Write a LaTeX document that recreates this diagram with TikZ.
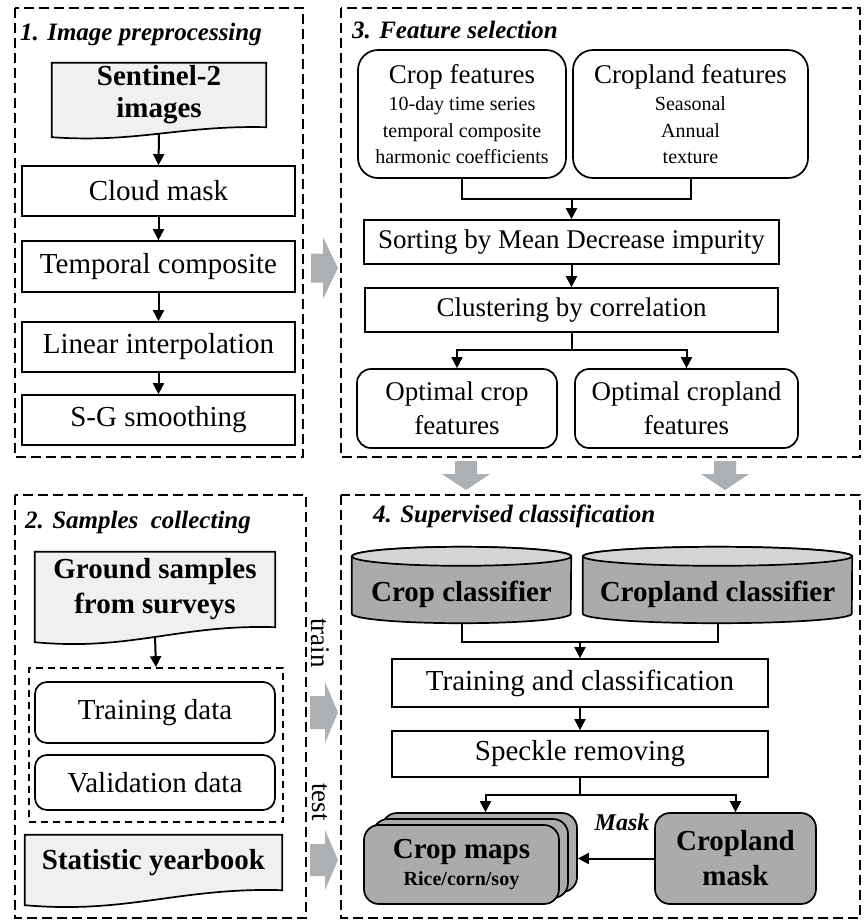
\documentclass[tikz,border=0pt]{standalone}
\usepackage{fontspec}
\setmainfont{Liberation Serif}
\usetikzlibrary{arrows.meta,backgrounds,calc}
\definecolor{docfill}{HTML}{F0F0F0}
\definecolor{dgray}{HTML}{A9ABAD}
\definecolor{lgray}{HTML}{D4D5D6}
\definecolor{agray}{HTML}{ADB0B3}
\newcommand\mydoc[2]{%
  \filldraw[fill=docfill, line width=1.7pt] (#1.south east) -- (#1.north east) -- (#1.north west) -- ([yshift=-#2pt]#1.south west)
   .. controls ($(#1.south west)!0.4!(#1.south east)+(0pt,-1.6*#2pt)$) and ($(#1.south west)!0.6!(#1.south east)+(0pt,0.2*#2pt)$) .. (#1.south east) -- cycle;}
\newcommand\mycyl[2]{%
  \filldraw[fill=dgray, line width=1.7pt] ([yshift=9.5pt]#1.north west) -- ([yshift=9.5pt]#1.south west)
   arc[start angle=180, end angle=360, x radius=#2pt, y radius=9.5pt] -- ([yshift=9.5pt]#1.north east)
   arc[start angle=0, end angle=180, x radius=#2pt, y radius=9.5pt] -- cycle;
  \filldraw[fill=lgray, line width=1.7pt] ([yshift=9.5pt]#1.north) ellipse[x radius=#2pt, y radius=9.5pt];}
\begin{document}
\begin{tikzpicture}[x=1pt,y=-1pt,
  panel/.style={draw, line width=2.2pt, dash pattern=on 10pt off 5pt},
  box/.style={draw, line width=1.7pt, fill=white, inner sep=0pt, align=center, font=\fontsize{29}{34}\selectfont},
  sbox/.style={box, font=\fontsize{27}{34}\selectfont},
  rbox/.style={box, rounded corners=14pt},
  docnode/.style={inner sep=0pt, align=center, font=\fontsize{29}{35}\selectfont\bfseries},
  gnode/.style={draw, line width=1.7pt, fill=dgray, inner sep=0pt, align=center, rounded corners=15pt, font=\fontsize{29}{35}\selectfont\bfseries},
  cylnode/.style={inner sep=0pt, font=\fontsize{29}{34}\selectfont\bfseries},
  title/.style={anchor=base west, inner sep=0pt, font=\fontsize{25}{30}\selectfont\bfseries\itshape},
  lbl/.style={inner sep=0pt, font=\fontsize{27}{30}\selectfont},
  line/.style={line width=2pt},
  arr/.style={line width=2pt, -{Triangle[length=11pt,width=11pt]}},
  garr/.style={fill=agray, draw=none}]
\useasboundingbox (0,0) rectangle (867,922);

% ---------- panels
\draw[panel] (15,8) rectangle (303,457);
\draw[panel] (341,8) rectangle (860,457);
\draw[panel] (15,495) rectangle (306,918);
\draw[panel] (341,495) rectangle (860,918);

% ---------- panel 1
\node[title] (t1) at (20,40) {1. Image preprocessing};
\node[docnode, font=\fontsize{29}{32}\selectfont\bfseries, minimum width=214pt, minimum height=64pt] (sent) at (159,95) {Sentinel-2\\images};
\begin{pgfonlayer}{background}\mydoc{sent}{10}\end{pgfonlayer}
\node[box, minimum width=273pt, minimum height=50pt] (cloud) at (158.5,191) {Cloud mask};
\node[box, minimum width=273pt, minimum height=51pt] (temp) at (158.5,266.5) {Temporal composite};
\node[box, minimum width=273pt, minimum height=50pt] (lin) at (158.5,347) {Linear interpolation};
\node[box, minimum width=273pt, minimum height=50pt] (sg) at (158.5,420) {S-G smoothing};
\draw[arr] ([yshift=-6.5pt]sent.south) -- (cloud.north);
\draw[arr] (cloud.south) -- (temp.north);
\draw[arr] (temp.south) -- (lin.north);
\draw[arr] (lin.south) -- (sg.north);

% gray arrow 1 -> 3
\fill[garr] (311,253.5) -- (323,253.5) -- (323,237) -- (338,268) -- (323,299) -- (323,282.5) -- (311,282.5) -- cycle;

% ---------- panel 3
\node[title] (t3) at (352,38) {3. Feature selection};
\node[rbox, rounded corners=20pt, minimum width=208pt, minimum height=128pt, font=\fontsize{20}{26.5}\selectfont] (cropf) at (462,114)
  {{\fontsize{27}{27}\selectfont Crop features}\\[1pt]10-day time series\\temporal composite\\harmonic coefficients};
\node[rbox, rounded corners=20pt, minimum width=235pt, minimum height=128pt, font=\fontsize{20}{26.5}\selectfont] (cropl) at (690.5,114)
  {{\fontsize{27}{27}\selectfont Cropland features}\\[1pt]Seasonal\\Annual\\texture};
\node[sbox, minimum width=415pt, minimum height=44pt] (sort) at (571.5,242) {Sorting by Mean Decrease impurity};
\node[sbox, minimum width=413pt, minimum height=44pt] (clus) at (571.5,310) {Clustering by correlation};
\node[rbox, font=\fontsize{27}{34}\selectfont, minimum width=200pt, minimum height=79pt] (optc) at (457,408.5) {Optimal crop\\features};
\node[rbox, font=\fontsize{27}{34}\selectfont, minimum width=223pt, minimum height=79pt] (optl) at (686.5,408.5) {Optimal cropland\\features};
\coordinate (j1) at (571.5,199);
\draw[line] (cropf.south) |- (j1) -| (cropl.south);
\draw[arr] (j1) -- (sort.north);
\draw[arr] (sort.south) -- (clus.north);
\coordinate (j2) at (571.5,350);
\draw[line] (clus.south) -- (j2);
\draw[arr] (j2) -| (optc.north);
\draw[arr] (j2) -| (optl.north);

% gray arrows 3 -> 4
\fill[garr] (455,461) -- (477,461) -- (477,474) -- (490,474) -- (466,490) -- (442,474) -- (455,474) -- cycle;
\fill[garr] (714,461) -- (736,461) -- (736,474) -- (749,474) -- (725,490) -- (701,474) -- (714,474) -- cycle;

% ---------- panel 2
\node[title] (t2) at (25,528) {2. Samples\ \ collecting};
\node[docnode, minimum width=240pt, minimum height=75pt] (ground) at (155,589.5) {Ground samples\\from surveys};
\begin{pgfonlayer}{background}\mydoc{ground}{15}\end{pgfonlayer}
\node[draw, line width=1.7pt, dash pattern=on 7pt off 5pt, inner sep=0pt, minimum width=254pt, minimum height=154pt] (inner) at (156,745) {};
\node[rbox, rounded corners=12pt, minimum width=240pt, minimum height=61pt] (train) at (155,712.5) {Training data};
\node[rbox, rounded corners=12pt, minimum width=240pt, minimum height=55pt] (valid) at (155,782.5) {Validation data};
\node[docnode, minimum width=257pt, minimum height=55pt] (stat) at (153.5,862.5) {Statistic yearbook};
\begin{pgfonlayer}{background}\mydoc{stat}{15}\end{pgfonlayer}
\draw[arr] ([yshift=-9.5pt]ground.south) -- (inner.north);

% train / test
\node[lbl, rotate=-90] (trainlbl) at (320,643) {train};
\node[lbl, rotate=-90] (testlbl) at (320,802) {test};
\fill[garr] (310,696) -- (325,696) -- (325,682) -- (338,712.5) -- (325,743) -- (325,729) -- (310,729) -- cycle;
\fill[garr] (310,844) -- (325,844) -- (325,830) -- (338,860) -- (325,890) -- (325,876) -- (310,876) -- cycle;

% ---------- panel 4
\node[title] (t4) at (373,522) {4. Supervised classification};
\node[cylnode, minimum width=219pt, minimum height=57pt] (cropc) at (461.5,594.5) {Crop classifier};
\node[cylnode, minimum width=269pt, minimum height=57pt] (cropcl) at (717.5,594.5) {Cropland classifier};
\begin{pgfonlayer}{background}\mycyl{cropc}{109.5}\mycyl{cropcl}{134.5}\end{pgfonlayer}
\node[box, minimum width=376pt, minimum height=48pt] (trc) at (580,683) {Training and classification};
\node[box, minimum width=376pt, minimum height=46pt] (spk) at (580,754) {Speckle removing};
\node[gnode, minimum width=195pt, minimum height=79pt] (cmb) at (479.5,852.5) {};
\node[gnode, minimum width=195pt, minimum height=79pt] (cmm) at (470.5,858.5) {};
\node[gnode, minimum width=195pt, minimum height=79pt, font=\fontsize{20}{27}\selectfont\bfseries] (cmf) at (461.5,864.5)
  {{\fontsize{29}{29}\selectfont Crop maps}\\Rice/corn/soy};
\node[gnode, minimum width=161pt, minimum height=91pt] (mask) at (735.5,858.5) {Cropland\\mask};
\node[inner sep=0pt, font=\fontsize{24}{28}\selectfont\bfseries\itshape] (masklbl) at (622,822) {Mask};
\coordinate (j3) at (580,642);
\draw[line] (cropc.south) |- (j3) -| (cropcl.south);
\draw[arr] (j3) -- (trc.north);
\draw[arr] (trc.south) -- (spk.north);
\coordinate (j4) at (580,795);
\draw[line] (spk.south) -- (j4);
\draw[arr] (j4) -| ([xshift=6pt]cmb.north);
\draw[arr] (j4) -| (mask.north);
\draw[arr] (mask.west) -- (mask.west -| cmb.east);
\end{tikzpicture}
\end{document}
